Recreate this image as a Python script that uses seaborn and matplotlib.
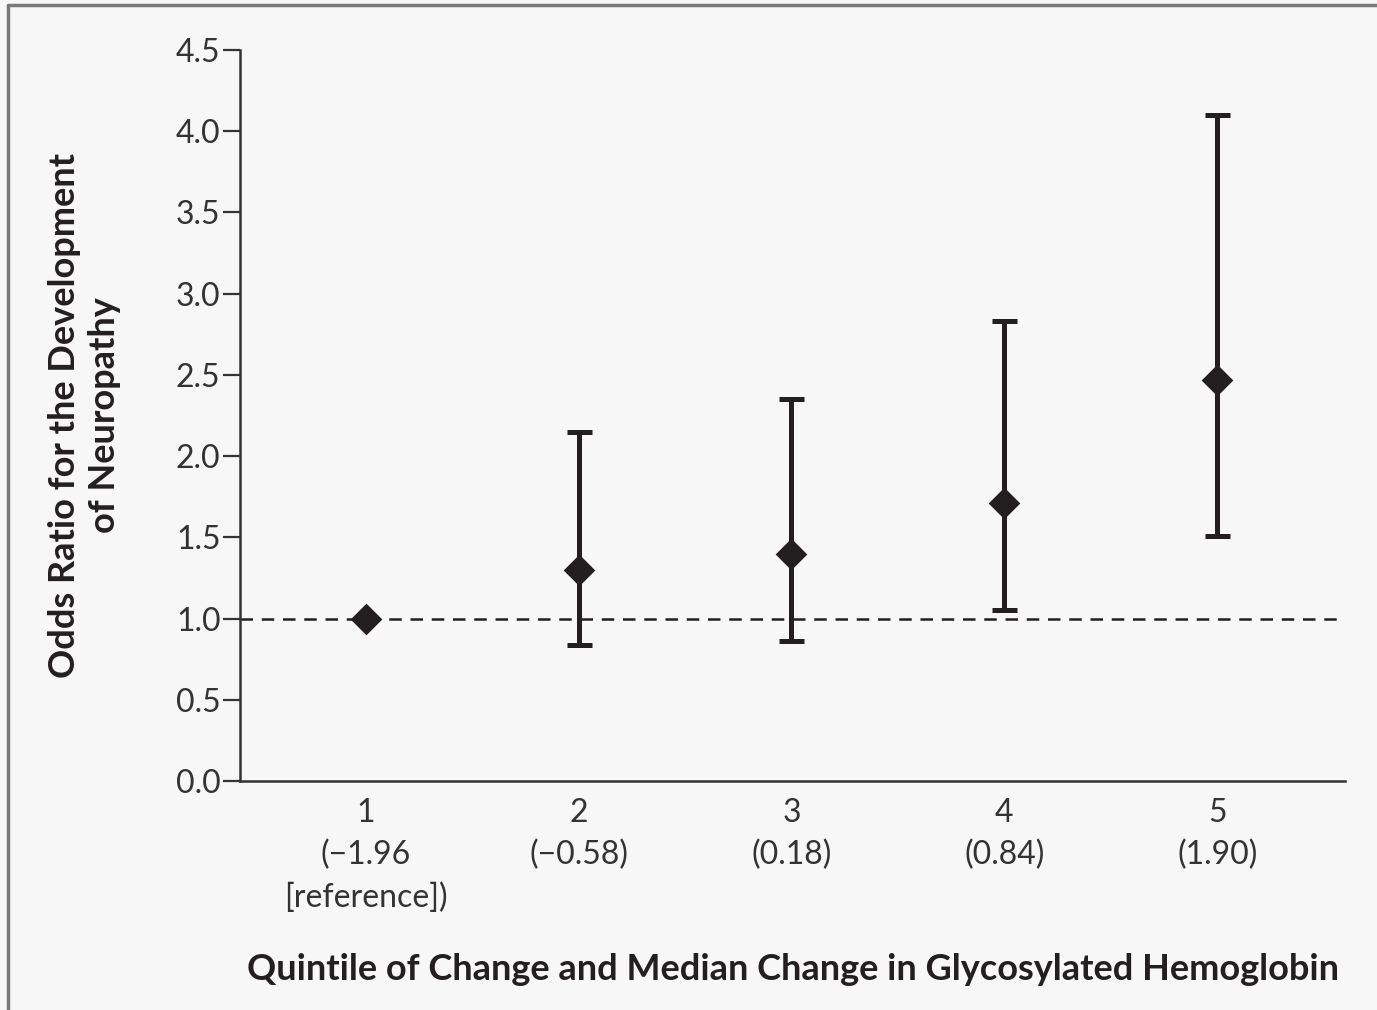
import matplotlib.pyplot as plt
import seaborn as sns
import pandas as pd
from matplotlib.lines import Line2D

quintiles = [1, 2, 3, 4, 5]
quintile_labels = ["1\n(\u22121.96\n[reference])", "2\n(\u22120.58)", "3\n(0.18)", "4\n(0.84)", "5\n(1.90)"]
odds_ratio = [1.00, 1.30, 1.40, 1.71, 2.47]
ci_low = [1.00, 0.84, 0.86, 1.05, 1.51]
ci_high = [1.00, 2.15, 2.35, 2.83, 4.10]

df = pd.DataFrame({"quintile": quintiles, "or": odds_ratio, "lo": ci_low, "hi": ci_high})

sns.set_style("ticks")
plt.rcParams['font.family'] = ['Lato', 'DejaVu Sans']
bg = "#f7f7f7"
ink = "#231f20"

fig = plt.figure(figsize=(13.77, 10.10), dpi=100, facecolor=bg)
ax = fig.add_axes([0.1743, 0.2267, 0.8025, 0.7238])
ax.set_facecolor(bg)

# reference line at OR = 1
ax.axhline(1.0, color=ink, linestyle=(0, (5, 3.5)), linewidth=1.8, zorder=1)

# confidence intervals (skip the reference quintile)
ci = df[df["hi"] > df["lo"]]
ax.errorbar(ci["quintile"], ci["or"],
            yerr=[ci["or"] - ci["lo"], ci["hi"] - ci["or"]],
            fmt="none", ecolor=ink, elinewidth=3.6, capsize=9, capthick=3.6, zorder=2)

sns.scatterplot(data=df, x="quintile", y="or", marker="D", s=260, color=ink,
                edgecolor=ink, linewidth=0, ax=ax, zorder=3)

ax.set_xlim(0.41, 5.6)
ax.set_ylim(0, 4.5)
ax.set_yticks([0.0, 0.5, 1.0, 1.5, 2.0, 2.5, 3.0, 3.5, 4.0, 4.5])
ax.set_yticklabels([f"{v:.1f}" for v in ax.get_yticks()])
ax.set_xticks(quintiles)
ax.set_xticklabels(quintile_labels, linespacing=1.5)

for lbl in ax.get_xticklabels() + ax.get_yticklabels():
    lbl.set_fontsize(23)
    lbl.set_color("#333333")

ax.tick_params(axis="y", length=12, width=1.6, color="#333333", pad=2)
ax.tick_params(axis="x", length=0, pad=12)

sns.despine(ax=ax)
for side in ["left", "bottom"]:
    ax.spines[side].set_linewidth(1.8)
    ax.spines[side].set_color("#333333")

ax.set_xlabel("Quintile of Change and Median Change in Glycosylated Hemoglobin",
              fontsize=26, fontweight="bold", color=ink)
ax.set_ylabel("Odds Ratio for the Development\nof Neuropathy",
              fontsize=26, fontweight="bold", color=ink, linespacing=1.25)
ax.xaxis.set_label_coords(0.5, -0.235)
ax.yaxis.set_label_coords(-0.108, 0.5)

# frame around the figure (left and top)
fig.add_artist(Line2D([8 / 1377, 8 / 1377], [0, 1 - 5 / 1010], transform=fig.transFigure,
                      color="#7a7a7a", linewidth=2.5))
fig.add_artist(Line2D([8 / 1377, 1], [1 - 5 / 1010, 1 - 5 / 1010], transform=fig.transFigure,
                      color="#7a7a7a", linewidth=2.5))

fig.savefig("out.png", dpi=100, facecolor=bg)
